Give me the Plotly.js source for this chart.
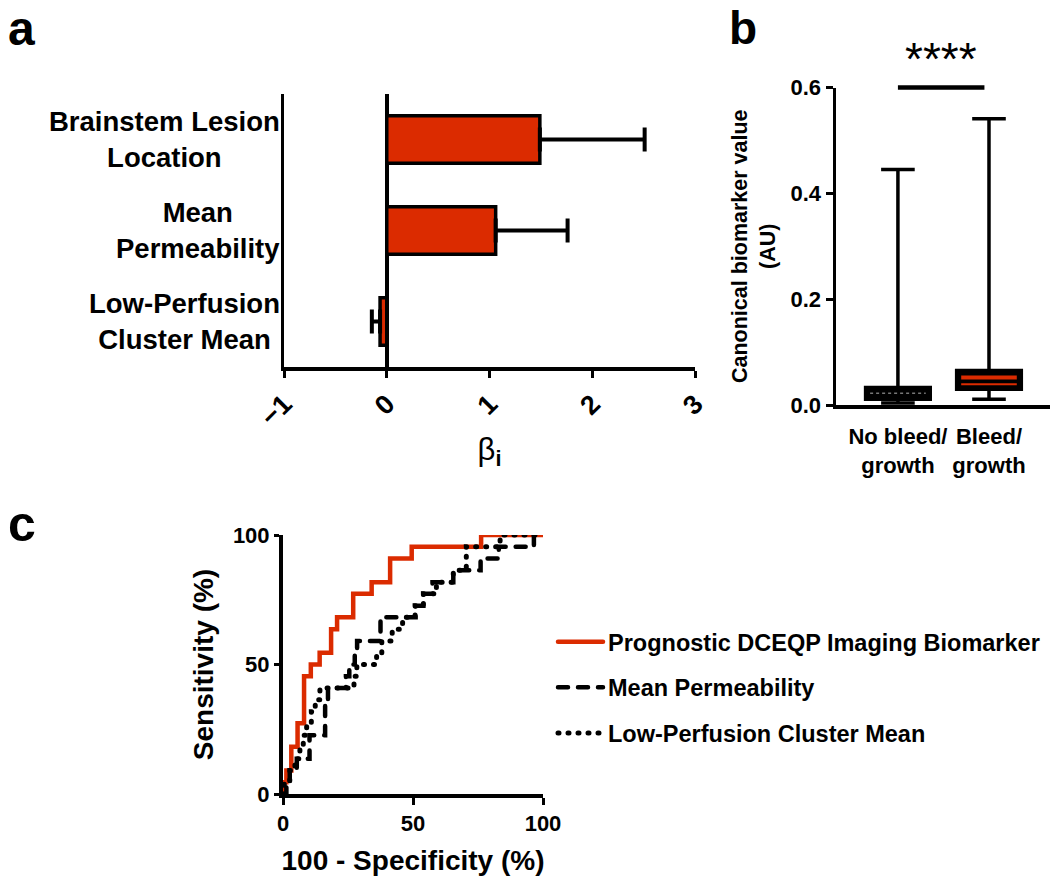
<!DOCTYPE html>
<html><head><meta charset="utf-8">
<script src="https://cdn.plot.ly/plotly-3.0.1.min.js"></script>
<style>
html,body{margin:0;padding:0;background:#fff;}
#chart{width:1050px;height:876px;}
.scatterlayer path.js-line, .legendlines path.js-line { stroke-linecap: round; }
</style>
</head><body><div id="chart"></div>
<script>
// ---------- Panel a: coefficients ----------
const predictors = ['Brainstem Lesion<br>Location', 'Mean<br>Permeability', 'Low-Perfusion<br>Cluster Mean'];
const betaValues = [1.49, 1.06, -0.065];
const betaErrPlus = [1.02, 0.70, 0];
const betaErrMinus = [0, 0, 0.08];
const betaTicks = [-1, 0, 1, 2, 3];

// ---------- Panel b: box plot ----------
const groups = ['No bleed/<br>growth', 'Bleed/<br>growth'];
const lowerFence = [0.004, 0.011];
const q1 = [0.011, 0.030];
const medians = [0.022, 0.052];
const q3 = [0.033, 0.065];
const upperFence = [0.445, 0.541];
const secondLine = [null, 0.039];
const bTicks = [0, 0.2, 0.4, 0.6];
const sigLevel = 0.6;
const sigLabel = '****';

// ---------- Panel c: ROC curves ----------
const rocNames = ['Prognostic DCEQP Imaging Biomarker', 'Mean Permeability', 'Low-Perfusion Cluster Mean'];
const dceqpFpr = [0, 0, 1.3, 3.2, 5.6, 8.1, 10.7, 14.1, 18.5, 20.8, 27.0, 34.1, 41.2, 49.5, 76.2, 100];
const dceqpTpr = [0, 4.5, 9.1, 18.2, 27.3, 45.5, 50.0, 54.5, 63.6, 68.2, 77.3, 81.8, 90.9, 95.5, 100, 100];
const permFpr = [0, 1.3, 2.6, 5.3, 10.2, 16.2, 17.3, 24.2, 25.5, 27.6, 28.5, 37.5, 51.0, 54.0, 57.5, 65.5, 76.0, 83.0, 96.5, 100];
const permTpr = [0, 4.5, 9.1, 13.6, 22.7, 36.4, 40.9, 45.5, 50.0, 54.5, 59.1, 68.2, 72.7, 77.3, 81.8, 86.4, 90.9, 95.5, 100, 100];
const lowPerfFpr = [0, 0.5, 2.6, 4.6, 6.5, 7.8, 9.1, 10.9, 12.4, 14.2, 27.3, 28.4, 36.0, 38.0, 42.0, 46.0, 50.8, 54.0, 59.0, 65.5, 70.5, 70.5, 83.5, 100];
const lowPerfTpr = [0, 4.5, 9.1, 13.6, 18.2, 22.7, 27.3, 31.8, 36.4, 40.9, 45.5, 50.0, 54.5, 59.1, 63.6, 68.2, 72.7, 77.3, 81.8, 86.4, 90.9, 95.5, 100, 100];
const rocTicks = [0, 50, 100];

// ---------- Styles ----------
const FONT = 'Liberation Sans, Arial, Helvetica, sans-serif';
const RED = '#DB2B00';
const W = 1050, H = 876;
const px = v => v / W;
const py = v => 1 - v / H;
const bold = (size) => ({family: FONT, size: size, color: '#000', weight: 'bold'});
const boxWidth = 0.71;

const traces = [
  {
    type: 'bar', orientation: 'h', x: betaValues, y: predictors,
    xaxis: 'x', yaxis: 'y', showlegend: false,
    marker: {color: RED, line: {color: '#000', width: 3.5}},
    error_x: {type: 'data', symmetric: false, array: betaErrPlus, arrayminus: betaErrMinus,
              color: '#000', thickness: 4, width: 12},
    hoverinfo: 'skip'
  },
  {
    type: 'box', x: groups, q1: q1, median: medians, q3: q3,
    lowerfence: lowerFence, upperfence: upperFence,
    xaxis: 'x2', yaxis: 'y2', showlegend: false, boxpoints: false,
    fillcolor: '#000', line: {color: '#000', width: 3.5},
    whiskerwidth: 0.52, width: boxWidth, hoverinfo: 'skip'
  },
  {
    type: 'scatter', mode: 'lines', x: dceqpFpr, y: dceqpTpr, name: rocNames[0],
    xaxis: 'x3', yaxis: 'y3', line: {color: RED, width: 4.5, shape: 'hv'},
    legendgroup: 'g1', cliponaxis: false, hoverinfo: 'skip'
  },
  {
    type: 'scatter', mode: 'lines', x: permFpr, y: permTpr, name: rocNames[1],
    xaxis: 'x3', yaxis: 'y3', line: {color: '#000', width: 4.5, shape: 'hv', dash: '10px,10px'},
    legendgroup: 'g2', cliponaxis: false, hoverinfo: 'skip'
  },
  {
    type: 'scatter', mode: 'lines', x: lowPerfFpr, y: lowPerfTpr, name: rocNames[2],
    xaxis: 'x3', yaxis: 'y3', line: {color: '#000', width: 5, shape: 'hv', dash: '1px,9px'},
    legendgroup: 'g3', cliponaxis: false, hoverinfo: 'skip'
  }
];

// inner lines of the boxes (median / second line) from data
const shapes = [];
const innerHW = boxWidth / 2 * 0.86;
medians.forEach((m, i) => {
  if (i === 0) {
    shapes.push({type: 'line', xref: 'x2', yref: 'y2', x0: i - innerHW, x1: i + innerHW, y0: m, y1: m,
                 line: {color: '#777', width: 1.5, dash: 'dot'}});
  } else {
    shapes.push({type: 'line', xref: 'x2', yref: 'y2', x0: i - innerHW, x1: i + innerHW, y0: m, y1: m,
                 line: {color: RED, width: 4}});
  }
});
secondLine.forEach((v, i) => {
  if (v === null) return;
  shapes.push({type: 'line', xref: 'x2', yref: 'y2', x0: i - innerHW, x1: i + innerHW, y0: v, y1: v,
               line: {color: RED, width: 2}});
});
// significance bar at sigLevel (top of the y2 range)
shapes.push({type: 'line', xref: 'x2', yref: 'paper', x0: 0, x1: 0.95,
             y0: py(87.5), y1: py(87.5), line: {color: '#000', width: 4.5}});

const annotations = [];
predictors.forEach((p, i) => {
  annotations.push({text: p, xref: 'paper', yref: 'y', x: px(282), y: i, xanchor: 'right',
                    yanchor: 'middle', align: 'center', showarrow: false, font: bold(27.5)});
});
annotations.push({text: sigLabel, xref: 'x2', yref: 'paper', x: 0.47, y: py(31), yanchor: 'top',
                  showarrow: false, font: {family: FONT, size: 46, color: '#000'}});
annotations.push({text: 'a', xref: 'paper', yref: 'paper', x: px(6), y: 1, xanchor: 'left', yanchor: 'top', showarrow: false, font: bold(48)});
annotations.push({text: 'b', xref: 'paper', yref: 'paper', x: px(727), y: 1, xanchor: 'left', yanchor: 'top', showarrow: false, font: bold(46)});
annotations.push({text: 'c', xref: 'paper', yref: 'paper', x: px(6), y: py(494), xanchor: 'left', yanchor: 'top', showarrow: false, font: bold(50)});

const axisCommon = {showgrid: false, showline: true, linecolor: '#000', mirror: false,
                    ticks: 'outside', tickcolor: '#000', tickwidth: 3, ticklen: 7, automargin: false};

const layout = {
  width: W, height: H, margin: {l: 0, r: 0, t: 0, b: 0},
  paper_bgcolor: '#fff', plot_bgcolor: 'rgba(0,0,0,0)',
  bargap: 0.48, showlegend: true,
  xaxis: Object.assign({}, axisCommon, {
    domain: [px(284), px(695)], anchor: 'y', range: [-1, 3], tickvals: betaTicks,
    linewidth: 3.5, zeroline: true, zerolinecolor: '#000', zerolinewidth: 3.5,
    tickangle: -45, tickfont: bold(27),
    title: {text: 'β<sub><b>i</b></sub>', font: {family: FONT, size: 31, color: '#000'}, standoff: 8}
  }),
  yaxis: Object.assign({}, axisCommon, {
    domain: [py(367), py(94)], anchor: 'x', type: 'category', categoryarray: predictors,
    range: [2.5, -0.5], linewidth: 3.5, ticks: '', showticklabels: false, zeroline: false
  }),
  xaxis2: Object.assign({}, axisCommon, {
    domain: [px(836), 1], anchor: 'y2', type: 'category', range: [-0.68, 1.67],
    linewidth: 3.5, ticks: '', tickfont: bold(22), zeroline: false, ticklabelstandoff: 9
  }),
  yaxis2: Object.assign({}, axisCommon, {
    domain: [py(405), py(87.5)], anchor: 'x2', range: [0, 0.6], tickvals: bTicks,
    tickformat: '.1f', linewidth: 3.5, tickfont: bold(22), zeroline: false,
    title: {text: 'Canonical biomarker value<br>(AU)', font: bold(21.5), standoff: 10}
  }),
  xaxis3: Object.assign({}, axisCommon, {
    domain: [px(283), px(543)], anchor: 'y3', range: [0, 100], tickvals: rocTicks,
    linewidth: 4, tickfont: bold(22), zeroline: false,
    title: {text: '100 - Specificity (%)', font: bold(28), standoff: 16}
  }),
  yaxis3: Object.assign({}, axisCommon, {
    domain: [py(794), py(535)], anchor: 'x3', range: [0, 100], tickvals: rocTicks,
    linewidth: 4, tickfont: bold(22), zeroline: false, ticklen: 5,
    title: {text: 'Sensitivity (%)', font: bold(28), standoff: 12}
  }),
  legend: {x: px(553), y: py(620), xanchor: 'left', yanchor: 'top', font: bold(23.5),
           tracegroupgap: 12, itemwidth: 45, bgcolor: 'rgba(0,0,0,0)', traceorder: 'grouped'},
  shapes: shapes,
  annotations: annotations
};

Plotly.newPlot('chart', traces, layout, {displayModeBar: false, staticPlot: true});
</script>
</body></html>
